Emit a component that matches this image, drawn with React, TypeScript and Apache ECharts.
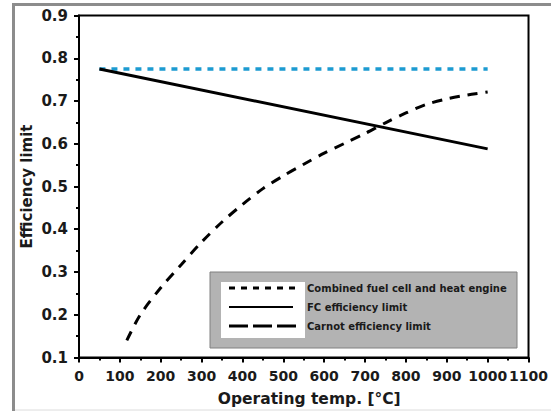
import React, { useEffect, useRef } from "react";
import * as echarts from "echarts";

const xTicks = [0, 100, 200, 300, 400, 500, 600, 700, 800, 900, 1000, 1100];
const yTicks = [0.1, 0.2, 0.3, 0.4, 0.5, 0.6, 0.7, 0.8, 0.9];

const combinedX = [50, 1000];
const combinedY = [0.775, 0.775];

const fcX = [50, 1000];
const fcY = [0.775, 0.588];

const carnotX = [117, 150, 200, 250, 300, 350, 400, 450, 500, 550, 600, 650, 700, 750, 800, 850, 900, 950, 1000];
const carnotY = [0.14, 0.2, 0.263, 0.317, 0.37, 0.417, 0.458, 0.495, 0.525, 0.552, 0.578, 0.601, 0.624, 0.649, 0.672, 0.692, 0.705, 0.714, 0.721];

const legendNames = ["Combined fuel cell and heat engine", "FC efficiency limit", "Carnot efficiency limit"];

const FONT = "DejaVu Sans";

export default function App() {
  const ref = useRef<HTMLDivElement>(null);
  useEffect(() => {
    if (!ref.current) return;
    const chart = echarts.init(ref.current, null, { renderer: "svg" });
    const zip = (xs: number[], ys: number[]) => xs.map((x, i) => [x, ys[i]]);
    const legendTop = 272;
    const rowY = [288, 307, 326];
    chart.setOption({
      animation: false,
      backgroundColor: "#ffffff",
      grid: { left: 79, right: 21, top: 15.5, bottom: 56.5, show: true, borderColor: "#000", borderWidth: 2, backgroundColor: "transparent" },
      xAxis: {
        type: "value",
        min: xTicks[0],
        max: xTicks[xTicks.length - 1],
        interval: 100,
        name: "Operating temp. [°C]",
        nameLocation: "middle",
        nameGap: 33,
        nameMoveOverlap: false,
        nameTextStyle: { fontFamily: FONT, fontWeight: "bold", fontSize: 15.5, color: "#1a1a1a", padding: [0, 0, 0, 11] },
        axisLine: { lineStyle: { color: "#000", width: 2 } },
        axisTick: { show: true, length: 5, lineStyle: { color: "#000", width: 2 } },
        minorTick: { show: true, splitNumber: 2, length: 3, lineStyle: { color: "#000", width: 2 } },
        splitLine: { show: false },
        axisLabel: {
          interval: 0,
          margin: 11,
          fontFamily: FONT,
          fontWeight: "bold",
          fontSize: 14,
          color: "#1a1a1a",
          hideOverlap: false,
          formatter: (v: number) => String(v),
        },
      },
      yAxis: {
        type: "value",
        min: yTicks[0],
        max: yTicks[yTicks.length - 1],
        interval: 0.1,
        name: "Efficiency limit",
        nameLocation: "middle",
        nameGap: 45,
        nameMoveOverlap: false,
        nameTextStyle: { fontFamily: FONT, fontWeight: "bold", fontSize: 15, color: "#1a1a1a" },
        axisLine: { lineStyle: { color: "#000", width: 2 } },
        axisTick: { show: true, length: 5, lineStyle: { color: "#000", width: 2 } },
        minorTick: { show: true, splitNumber: 2, length: 3, lineStyle: { color: "#000", width: 2 } },
        splitLine: { show: false },
        axisLabel: { margin: 11, fontFamily: FONT, fontWeight: "bold", fontSize: 15, color: "#1a1a1a", formatter: (v: number) => v.toFixed(1) },
      },
      series: [
        {
          name: legendNames[0],
          type: "line",
          data: zip(combinedX, combinedY),
          showSymbol: false,
          lineStyle: { color: "#1c9bd1", width: 3.5, type: [6, 6] },
        },
        {
          name: legendNames[1],
          type: "line",
          data: zip(fcX, fcY),
          showSymbol: false,
          lineStyle: { color: "#000", width: 3 },
        },
        {
          name: legendNames[2],
          type: "line",
          data: zip(carnotX, carnotY),
          showSymbol: false,
          smooth: 0.3,
          lineStyle: { color: "#000", width: 3, type: [10, 8] },
        },
      ],
      graphic: [
        { type: "line", shape: { x1: 13.5, y1: 3, x2: 13.5, y2: 411 }, style: { stroke: "#8c8c8c", lineWidth: 3 } },
        { type: "line", shape: { x1: 12, y1: 4.5, x2: 551, y2: 4.5 }, style: { stroke: "#8c8c8c", lineWidth: 3 } },
        { type: "line", shape: { x1: 15, y1: 410, x2: 551, y2: 410 }, style: { stroke: "#dcdcdc", lineWidth: 1 } },
        { type: "rect", shape: { x: 210, y: legendTop, width: 307, height: 76 }, style: { fill: "#b3b3b3", stroke: "#808080", lineWidth: 1 } },
        { type: "rect", shape: { x: 221, y: 282, width: 84, height: 56 }, style: { fill: "#ffffff" } },
        { type: "line", shape: { x1: 229, y1: rowY[0], x2: 297, y2: rowY[0] }, style: { stroke: "#000", lineWidth: 3, lineDash: [6, 6] } },
        { type: "line", shape: { x1: 229, y1: rowY[1], x2: 293, y2: rowY[1] }, style: { stroke: "#000", lineWidth: 2 } },
        { type: "line", shape: { x1: 229, y1: rowY[2], x2: 297, y2: rowY[2] }, style: { stroke: "#000", lineWidth: 3, lineDash: [19, 5] } },
        ...legendNames.map((n, i) => ({
          type: "text",
          x: 307,
          y: rowY[i],
          style: { text: n, fill: "#1a1a1a", font: `bold 10px "${FONT}"`, textVerticalAlign: "middle" },
        })),
      ],
    });
    return () => chart.dispose();
  }, []);
  return <div ref={ref} style={{ position: "fixed", left: 0, top: 0, width: 551, height: 414 }} />;
}
